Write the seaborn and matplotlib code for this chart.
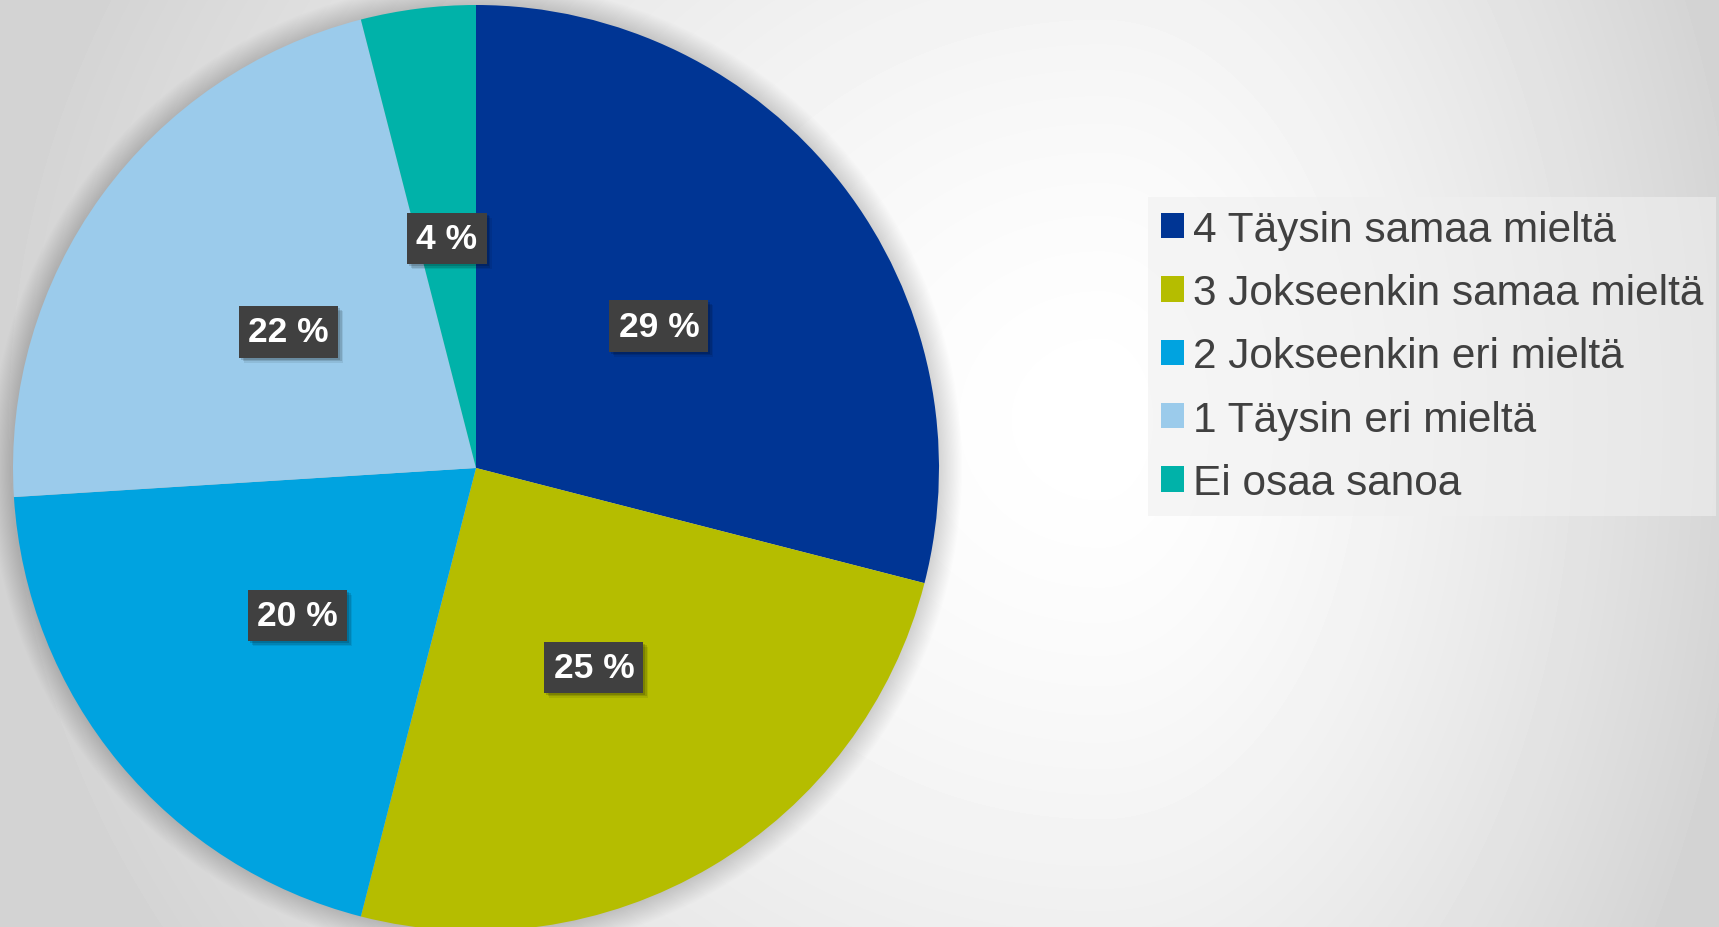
import numpy as np
import matplotlib
matplotlib.use("Agg")
import matplotlib.pyplot as plt
from matplotlib.patches import Circle, Rectangle
from matplotlib.transforms import IdentityTransform
import seaborn as sns

# data
categories = ["4 Täysin samaa mieltä", "3 Jokseenkin samaa mieltä",
              "2 Jokseenkin eri mieltä", "1 Täysin eri mieltä", "Ei osaa sanoa"]
shares = [29, 25, 20, 22, 4]
colors = ["#003594", "#b5bd00", "#00a3e0", "#9bcbeb", "#00b2a9"]

sns.set_theme(style="white")
plt.rcParams["font.family"] = ["Liberation Sans", "DejaVu Sans"]

W, H = 1719, 928
fig = plt.figure(figsize=(W / 100, H / 100), dpi=100)

# background gradient
bg = fig.add_axes([0, 0, 1, 1])
yy, xx = np.mgrid[0:H, 0:W]
sx = np.where(xx > 1100, 650.0, 1100.0)
t = np.sqrt(((xx - 1100) / sx) ** 2 + ((yy - 420) / 1000.0) ** 2)
val = 1 - 0.17 * np.clip(t, 0, 1) ** 1.5
bg.imshow(val, cmap="gray", vmin=0, vmax=1, extent=[0, W, H, 0], aspect="auto")
bg.set_axis_off()

# pie axes: centre (476, 469) px, radius 463 px
cx, cy, R = 476, 469, 463
m = 1.1
ax = fig.add_axes([(cx - m * R) / W, (H - cy - m * R) / H, 2 * m * R / W, 2 * m * R / H])
ax.patch.set_alpha(0)

# soft shadow
for k in range(1, 21):
    ax.add_patch(Circle((0, 0), 1 + k * 0.0025, facecolor="black", alpha=0.009,
                        edgecolor="none", zorder=0))

wedges, texts, autotexts = ax.pie(
    shares, colors=colors, startangle=90, counterclock=False,
    autopct="%1.0f %%", pctdistance=0.5, radius=1,
    wedgeprops=dict(linewidth=0), textprops=dict(color="white", fontsize=25.5,
                                                   fontweight="bold"))
ax.set_xlim(-m, m)
ax.set_ylim(-m, m)
ax.set_axis_off()
for w in wedges:
    w.set_zorder(1)

for at in autotexts:
    at.set_zorder(3)
    at.set_bbox(dict(boxstyle="square,pad=0.26", facecolor="#404040", edgecolor="none"))

# drop shadows behind the label boxes
fig.canvas.draw()
for at in autotexts:
    bb = at.get_bbox_patch().get_window_extent()
    for d, a in [(5, 0.08), (3.5, 0.12), (2, 0.15)]:
        ax.add_patch(Rectangle((bb.x0 + d, bb.y0 - d), bb.width, bb.height,
                               transform=IdentityTransform(), facecolor="black",
                               alpha=a, edgecolor="none", zorder=2))

leg = fig.legend(wedges, categories, loc="upper left",
                 bbox_to_anchor=(1148 / W, 1 - 198 / H), borderaxespad=0,
                 fontsize=30.5, frameon=True, fancybox=False, framealpha=0.6,
                 facecolor="#f0f0f0", edgecolor="none", handlelength=0.55,
                 handleheight=0.55, handletextpad=0.22, labelspacing=0.55,
                 borderpad=0.3)
for txt in leg.get_texts():
    txt.set_color("#404040")

fig.savefig("out.png", dpi=100)
